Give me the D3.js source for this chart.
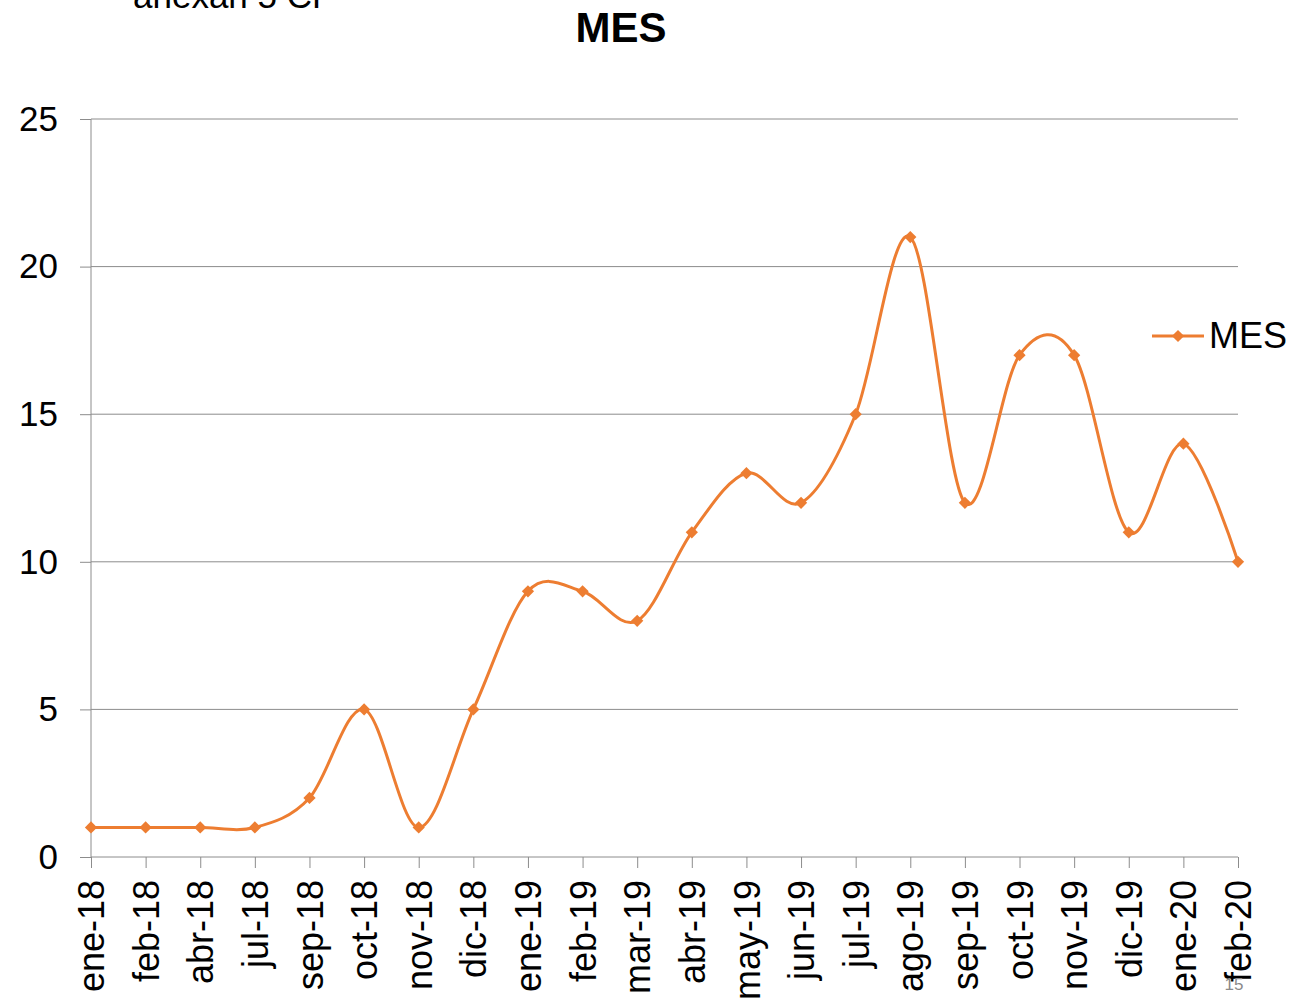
<!DOCTYPE html>
<html><head><meta charset="utf-8">
<script src="https://cdn.jsdelivr.net/npm/d3@7"></script>
<style>body{margin:0;background:#fff;} svg{display:block;font-family:Arial, "Liberation Sans", sans-serif;}</style>
</head><body>
<svg id="c" width="1307" height="1000"></svg>
<script>
const categories = ["ene-18","feb-18","abr-18","jul-18","sep-18","oct-18","nov-18","dic-18","ene-19","feb-19","mar-19","abr-19","may-19","jun-19","jul-19","ago-19","sep-19","oct-19","nov-19","dic-19","ene-20","feb-20"];
const values = [1,1,1,1,2,5,1,5,9,9,8,11,13,12,15,21,12,17,17,11,14,10];
const yTicks = [0,5,10,15,20,25];
const seriesName = "MES";
const title = "MES";

const svg = d3.select("#c");
const color = "#ED7D31";
const x = d3.scalePoint().domain(categories).range([91,1238]);
const y = d3.scaleLinear().domain([0,25]).range([857,119]);

// gridlines
svg.append("g").selectAll("line").data(yTicks.filter(d=>d>0)).join("line")
  .attr("x1",91).attr("x2",1238).attr("y1",d=>y(d)).attr("y2",d=>y(d))
  .attr("stroke","#8c8c8c").attr("stroke-width",1);

// y axis
const ya = svg.append("g").attr("transform","translate(91,0)")
  .call(d3.axisLeft(y).tickValues(yTicks).tickSize(11).tickPadding(22).tickFormat(d3.format("d")));
ya.select(".domain").attr("stroke","#8c8c8c").attr("d","M0,857V119");
ya.selectAll(".tick line").attr("stroke","#8c8c8c");
ya.selectAll("text").attr("font-size",35).attr("fill","#000").attr("font-family","Arial, 'Liberation Sans', sans-serif");

// x axis
const xa = svg.append("g").attr("transform","translate(0,857)")
  .call(d3.axisBottom(x).tickSize(11).tickPadding(0));
xa.select(".domain").attr("stroke","#8c8c8c").attr("d","M91,0H1238");
xa.selectAll(".tick line").attr("stroke","#8c8c8c");
xa.selectAll("text")
  .attr("font-size",36).attr("fill","#000").attr("font-family","Arial, 'Liberation Sans', sans-serif")
  .attr("text-anchor","end").attr("dy","0.35em")
  .attr("transform","translate(0,23) rotate(-90)").attr("y",0).attr("x",0);

// line
const line = d3.line().x((d,i)=>x(categories[i])).y(d=>y(d)).curve(d3.curveCardinal.tension(0));
svg.append("path").datum(values).attr("d",line).attr("fill","none").attr("stroke",color).attr("stroke-width",3);

const diamond = d3.symbol().type(d3.symbolSquare).size(75);
svg.append("g").selectAll("path").data(values).join("path")
  .attr("d",diamond).attr("fill",color)
  .attr("transform",(d,i)=>`translate(${x(categories[i])},${y(d)}) rotate(45)`);

// title
svg.append("text").attr("x",621).attr("y",42).attr("text-anchor","middle")
  .attr("font-size",42).attr("font-weight","bold").text(title);

// legend
svg.append("line").attr("x1",1152).attr("x2",1204).attr("y1",336).attr("y2",336).attr("stroke",color).attr("stroke-width",3);
svg.append("path").attr("d",diamond).attr("fill",color).attr("transform","translate(1178,336) rotate(45)");
svg.append("text").attr("x",1209).attr("y",348).attr("font-size",36).text(seriesName);

// partial text at top
svg.append("text").attr("x",133).attr("y",8).attr("font-size",35).text("anexan 5 CF");
// slide number
svg.append("text").attr("x",1234).attr("y",990).attr("text-anchor","middle").attr("font-size",17).attr("fill","#8a8a8a").text("15");
</script>
</body></html>
